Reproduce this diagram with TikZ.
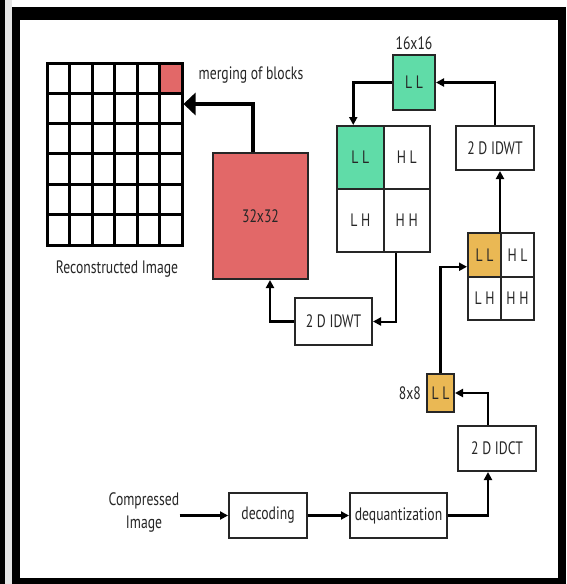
\documentclass[tikz,border=0pt]{standalone}
\usepackage{fontspec}
\setmainfont{PT Sans}
\usepackage{graphicx}
\usetikzlibrary{arrows.meta,positioning}
\definecolor{blockred}{RGB}{226,104,104}
\definecolor{llgreen}{RGB}{96,220,168}
\definecolor{llorange}{RGB}{234,184,84}
\newcommand{\nt}[1]{\scalebox{0.76}[1]{#1}}
\tikzstyle{every node}=[font=\fontsize{18}{23}\selectfont, text=black!85, inner sep=0pt]
\tikzstyle{box}=[draw=black!85, line width=2pt, fill=white]
\tikzstyle{cell}=[box, minimum width=46.5pt, minimum height=63pt]
\tikzstyle{scell}=[box, minimum width=33pt, minimum height=43.5pt]
\tikzstyle{flow}=[line width=2.5pt, -{Triangle[length=8pt,width=8pt]}]
\tikzstyle{merge}=[line width=4pt, -{Triangle[length=12pt,width=22pt]}]

\begin{document}
\begin{tikzpicture}[x=1pt,y=-1pt]
  \useasboundingbox (0,0) rectangle (566,584);
  % frame
  \fill[gray!20] (0,0) rectangle (12,584);
  \fill[black] (0,0) rectangle (5,584);
  \fill[black] (12,7) rectangle (566,584);
  \fill[white] (20,20) rectangle (558,578);

  % reconstructed image
  \fill[blockred] (159.5,63) rectangle (182,93.3);
  \node [draw, line width=3pt, minimum width=135pt, minimum height=182pt] (grid) at (114.5,154) {};
  \foreach \i in {1,...,5} {
    \draw[line width=3pt] ({47+\i*22.5},63) -- ({47+\i*22.5},245);
    \draw[line width=3pt] (47,{63+\i*30.33}) -- (182,{63+\i*30.33});
  }
  \node (recon) at (117,269) {\nt{Reconstructed Image}};
  \node (mergetxt) at (251,75) {\nt{merging of blocks}};

  \node [box, fill=blockred, minimum width=95pt, minimum height=126pt] (blk) at (260.5,216) {\nt{32x32}};
  \node [box, minimum width=77pt, minimum height=47pt] (idwtA) at (333.5,321.5) {\nt{2 D IDWT}};

  % first level sub-bands
  \node [cell, fill=llgreen] (qLL) at (360.25,157.5) {\nt{L L}};
  \node [cell] (qHL) at (406.75,157.5) {\nt{H L}};
  \node [cell] (qLH) at (360.25,220.5) {\nt{L H}};
  \node [cell] (qHH) at (406.75,220.5) {\nt{H H}};

  \node [box, fill=llgreen, minimum width=42pt, minimum height=55pt] (ll16) at (414,82.5) {\nt{L L}};
  \node [above=4pt of ll16] (lbl16) {\nt{16x16}};
  \node [box, minimum width=78pt, minimum height=44pt] (idwtB) at (495,148) {\nt{2 D IDWT}};

  % second level sub-bands
  \node [scell, fill=llorange] (sLL) at (484.5,254.75) {\nt{L L}};
  \node [scell] (sHL) at (517.5,254.75) {\nt{H L}};
  \node [scell] (sLH) at (484.5,298.25) {\nt{L H}};
  \node [scell] (sHH) at (517.5,298.25) {\nt{H H}};

  \node [box, fill=llorange, minimum width=27pt, minimum height=38pt] (ll8) at (440.5,393) {\nt{L L}};
  \node [left=5pt of ll8] (lbl8) {\nt{8x8}};
  \node [box, minimum width=78pt, minimum height=45pt] (idct) at (497,448.5) {\nt{2 D IDCT}};

  % input chain
  \node [align=center] (inp) at (144,512) {\nt{Compressed}\\\nt{Image}};
  \node [box, minimum width=78pt, minimum height=45pt] (dec) at (268,515.5) {\nt{decoding}};
  \node [box, minimum width=97pt, minimum height=45pt] (deq) at (398.5,515.5) {\nt{dequantization}};

  \draw[flow] (inp.east |- dec.west) -- (dec.west);
  \draw[flow, line width=3.5pt] (dec.east) -- (deq.west);
  \draw[flow] (deq.east) -| ([xshift=-9pt]idct.south);
  \draw[flow] ([xshift=-9pt]idct.north) |- (ll8.east);
  \draw[flow] (ll8.north) |- ([yshift=-12pt]sLL.west);
  \draw[flow] (sHL.north west) -- (sHL.north west |- idwtB.south);
  \draw[flow] (idwtB.north) |- (ll16.east);
  \draw[flow] (ll16.west) -| ([xshift=-7pt]qLL.north);
  \draw[flow, line width=2pt] ([xshift=-11pt]qHH.south) |- (idwtA.east);
  \draw[flow] (idwtA.west) -| ([xshift=9.5pt]blk.south);
  \draw[merge] ([xshift=-7.5pt]blk.north) |- ([yshift=50pt]grid.east);
\end{tikzpicture}
\end{document}
